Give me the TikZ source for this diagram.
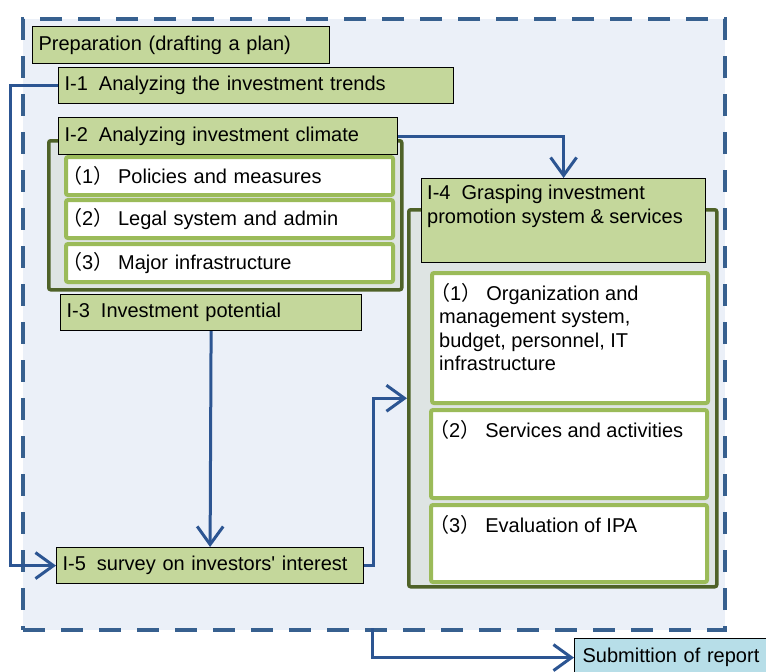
\documentclass[tikz,border=0pt]{standalone}
\usepackage{fontspec}
\setmainfont{Liberation Sans}
\newfontfamily\cjk{Noto Sans CJK SC}
\usepackage{xcolor}
\usepackage{tikz}
\usetikzlibrary{positioning}
\usetikzlibrary{arrows.meta}
\definecolor{framefill}{HTML}{EBF0F8}
\definecolor{frameblue}{HTML}{37608F}
\definecolor{linkblue}{HTML}{2C5592}
\definecolor{titlegreen}{HTML}{C4D79B}
\definecolor{darkgreen}{HTML}{4F6228}
\definecolor{litgreen}{HTML}{9BBB59}
\definecolor{groupgray}{HTML}{DEE4E3}
\definecolor{reportblue}{HTML}{B7DEE8}
\newcommand\ipanum[1]{\hspace{-9pt}{\cjk （}#1{\cjk ）}\hspace{5pt}}
\newcommand\idgap{\hspace{11pt}}

\tikzset{
framebox/.style={draw=frameblue, line width=4pt, dash pattern=on 22pt off 16pt,
  fill=framefill, anchor=north west, inner sep=0pt},
titlebox/.style={draw=black, line width=1.2pt, fill=titlegreen, anchor=north west,
  inner xsep=6pt, inner ysep=0pt, align=left},
groupbox/.style={draw=darkgreen, line width=3.5pt, fill=groupgray, rounded corners=2pt,
  anchor=north west, inner sep=0pt},
subbox/.style={draw=litgreen, line width=4pt, fill=white, rounded corners=2pt,
  anchor=north west, inner xsep=5pt, inner ysep=0pt, align=left},
toptext/.style={anchor=north west, align=left, inner xsep=9pt, inner ysep=12pt},
conn/.style={draw=linkblue, line width=3pt,
  -{Straight Barb[length=18pt,width=26pt,line width=3pt]}}
}

\begin{document}
\begin{tikzpicture}[x=1pt,y=-1pt,font=\fontsize{20}{23.5}\selectfont]
\useasboundingbox (0,0) rectangle (766,672);

%frame
\node[framebox, minimum width=702pt, minimum height=611pt] (frame) at (21,17) {};
\coordinate (out) at (372,628);
\coordinate (lft) at (10,0);

\node[titlebox, text width=285pt, minimum height=37pt] (prep) at (32,26)
  {Preparation (drafting a plan)};
\node[titlebox, text width=383pt, minimum height=36pt] (trend) at (58,67)
  {I-1\idgap Analyzing the investment trends};

%----------I-2
\node[groupbox, minimum width=353pt, minimum height=149pt] (grpclimate) at (47,139) {};
\node[titlebox, text width=327pt, minimum height=37pt] (climate) at (58,117)
  {I-2\idgap Analyzing investment climate};
\node[subbox, text width=317pt, minimum height=38pt] (policy) at (64,155)
  {\ipanum{1}Policies and measures};
\node[subbox, text width=317pt, minimum height=38pt] (legal) at (64,198)
  {\ipanum{2}Legal system and admin};
\node[subbox, text width=317pt, minimum height=38pt] (infra) at (64,242)
  {\ipanum{3}Major infrastructure};

%----------I-3, I-5
\node[titlebox, text width=289pt, minimum height=36pt] (potential) at (60,294)
  {I-3\idgap Investment potential};
\node[titlebox, text width=295pt, minimum height=36pt] (survey) at (56,547)
  {I-5\idgap survey on investors\textquotesingle\ interest};

%----------I-4
\node[groupbox, minimum width=308pt, minimum height=377pt] (grppromo) at (407,208) {};
\node[titlebox, minimum width=284pt, minimum height=84pt,
  label={[toptext, inner xsep=6pt, inner ysep=7pt]north west:I-4\idgap Grasping investment\\promotion system \& services}]
  (promo) at (421,178) {};
\node[subbox, minimum width=276pt, minimum height=130pt,
  label={[toptext]north west:\ipanum{1}Organization and\\management system,\\budget, personnel, IT\\infrastructure}]
  (orga) at (430,271) {};
\node[subbox, minimum width=276pt, minimum height=88pt,
  label={[toptext]north west:\ipanum{2}Services and activities}]
  (service) at (429,408) {};
\node[subbox, minimum width=276pt, minimum height=77pt,
  label={[toptext]north west:\ipanum{3}Evaluation of IPA}]
  (evalipa) at (429,503) {};

%report
\node[titlebox, fill=reportblue, inner xsep=8pt, text width=190pt, minimum height=38pt]
  (report) at (574,638) {Submittion of report};

%arrows
\draw[conn] (trend.west) -- (trend.west -| lft) |- (survey.west);
\draw[conn] (climate.east) -| (promo.north);
\draw[conn] (potential.south) -- (survey.north);
\draw[conn] (survey.east) -- ++(9,0) |- (grppromo.west);
\draw[conn] (out) |- (report.west);

\end{tikzpicture}
\end{document}
